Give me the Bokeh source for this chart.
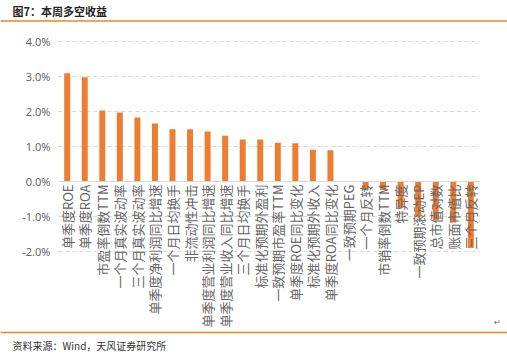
import math
from bokeh.plotting import figure
from bokeh.models import (LinearAxis, FixedTicker, PrintfTickFormatter, Span, Label,
                          Range1d, ColumnDataSource)
from bokeh.embed import file_html
from bokeh.resources import INLINE

categories = ["单季度ROE", "单季度ROA", "市盈率倒数TTM", "一个月真实波动率", "三个月真实波动率",
              "单季度净利润同比增速", "一个月日均换手", "非流动性冲击", "单季度营业利润同比增速",
              "单季度营业收入同比增速", "三个月日均换手", "标准化预期外盈利", "一致预期市盈率TTM",
              "单季度ROE同比变化", "标准化预期外收入", "单季度ROA同比变化", "一致预期PEG",
              "一个月反转", "市销率倒数TTM", "特异度", "一致预期滚动EP", "总市值对数",
              "账面市值比", "三个月反转"]
returns_pct = [3.09, 2.98, 2.03, 1.97, 1.83, 1.66, 1.49, 1.49, 1.43, 1.31, 1.20, 1.20, 1.11,
               1.09, 0.91, 0.89, 0.0, -0.22, -0.24, -0.75, -1.0, -1.1, -1.17, -1.9]
y_ticks = [-2, -1, 0, 1, 2, 3, 4]

title_text = "图7：本周多空收益"
source_text = "资料来源：Wind，天风证券研究所"

# Bokeh's page template sets body margin to 0, so the canvas starts at the page origin
MARGIN = 0
W, H = 507, 355
PX_PER_CAT = 17.55
PX_PER_PCT = 35.0
FIRST_CENTER_PAGE_X = 66.7
ZERO_PAGE_Y = 181.0

x_start = -(FIRST_CENTER_PAGE_X - MARGIN) / PX_PER_CAT
x_end = x_start + W / PX_PER_CAT
y_end = (ZERO_PAGE_Y - MARGIN) / PX_PER_PCT
y_start = y_end - H / PX_PER_PCT

def dx(page_x):
    return x_start + (page_x - MARGIN) / PX_PER_CAT

def dy(page_y):
    return y_end - (page_y - MARGIN) / PX_PER_PCT

p = figure(width=W, height=H, output_backend="svg", toolbar_location=None,
           x_axis_type=None, y_axis_type=None,
           x_range=Range1d(x_start, x_end), y_range=Range1d(y_start, y_end),
           min_border=0, min_border_left=0, min_border_right=0,
           min_border_top=0, min_border_bottom=0)
p.outline_line_color = None
p.background_fill_color = "white"
p.border_fill_color = "white"
p.xgrid.visible = False
p.ygrid.visible = False

n = len(categories)
xs = list(range(n))
src = ColumnDataSource(dict(x=xs, top=returns_pct, cat=categories))

# dashed gridlines, spanning only the category band
grid_vals = [t for t in y_ticks if t != 0]
p.segment(x0=[-0.5] * len(grid_vals), x1=[n - 0.5] * len(grid_vals),
          y0=grid_vals, y1=grid_vals, line_color="#d9d9d9", line_width=1,
          line_dash="4 3")

p.vbar(x="x", top="top", bottom=0, width=0.34, source=src,
       fill_color="#ED7D31", line_color=None)

# x axis at zero
xaxis = LinearAxis(ticker=FixedTicker(ticks=xs),
                   major_label_overrides={i: c for i, c in enumerate(categories)})
xaxis.fixed_location = 0
xaxis.bounds = (-0.5, n - 0.5)
xaxis.axis_line_color = "#d9d9d9"
xaxis.axis_line_width = 1
xaxis.major_tick_out = 0
xaxis.major_tick_in = 0
xaxis.minor_tick_out = 0
xaxis.minor_tick_in = 0
xaxis.major_label_orientation = math.pi / 2
xaxis.major_label_standoff = 3
xaxis.major_label_text_font = "Noto Sans CJK SC"
xaxis.major_label_text_font_size = "13px"
xaxis.major_label_text_color = "#666666"
p.add_layout(xaxis, "below")

yaxis = LinearAxis(ticker=FixedTicker(ticks=y_ticks),
                   formatter=PrintfTickFormatter(format="%.1f%%"))
yaxis.fixed_location = -0.5
yaxis.axis_line_color = None
yaxis.major_tick_out = 0
yaxis.major_tick_in = 0
yaxis.minor_tick_out = 0
yaxis.minor_tick_in = 0
yaxis.major_label_standoff = 8
yaxis.major_label_text_font = "Noto Sans"
yaxis.major_label_text_font_size = "11px"
yaxis.major_label_text_color = "#666666"
p.add_layout(yaxis, "left")

orange = "#F5851F"
p.add_layout(Span(location=dy(20.5), dimension="width", line_color=orange, line_width=1.5))
p.add_layout(Span(location=dy(332), dimension="width", line_color=orange, line_width=1.5))

p.add_layout(Label(x=dx(12), y=dy(10), text=title_text, text_baseline="middle",
                   text_align="left", text_font="Noto Sans CJK SC", text_font_size="11px",
                   text_font_style="bold", text_color="#262626"))
p.add_layout(Label(x=dx(12), y=dy(345), text=source_text, text_baseline="middle",
                   text_align="left", text_font="Noto Sans CJK SC", text_font_size="10px",
                   text_color="#333333"))
p.add_layout(Label(x=dx(497), y=dy(322), text="↵", text_baseline="middle",
                   text_align="center", text_font="DejaVu Sans", text_font_size="8px",
                   text_color="#666666"))

open("out.html", "w").write(file_html(p, INLINE))
